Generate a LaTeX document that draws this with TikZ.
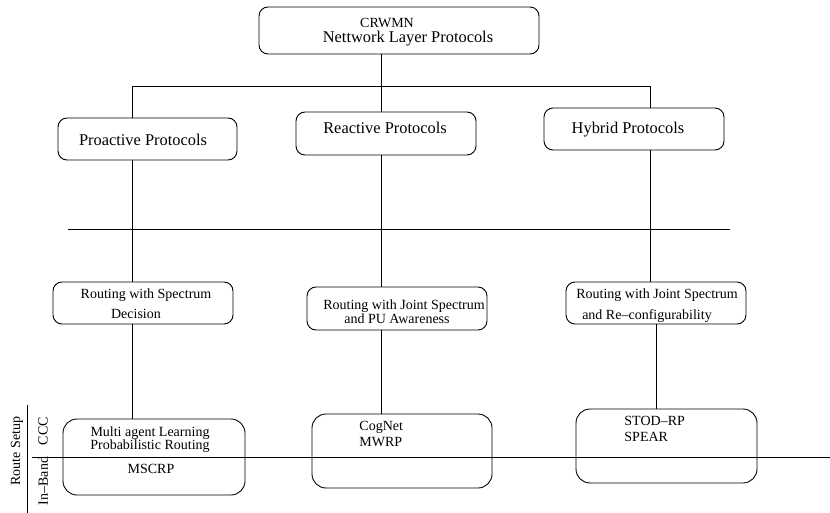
\documentclass[tikz,border=0pt]{standalone}
\usepackage{fontspec}
\setmainfont{Liberation Serif}
\begin{document}
\begin{tikzpicture}[x=1pt,y=-1pt,line width=0.9pt,
  box/.style={draw,rectangle,rounded corners=9pt,inner sep=0pt,outer sep=0pt},
  tallbox/.style={draw,rectangle,rounded corners=14pt,inner sep=0pt,outer sep=0pt},
  big/.style={inner sep=0pt,anchor=base,font=\fontsize{16.4}{18}\selectfont},
  small/.style={inner sep=0pt,anchor=base,font=\fontsize{14}{16}\selectfont},
  smallleft/.style={small,anchor=base west},
  sidelabel/.style={inner sep=0pt,anchor=center,rotate=90,font=\fontsize{14}{16}\selectfont}]
\useasboundingbox (0,0) rectangle (830,513);

% boxes
\node[box,minimum width=280pt,minimum height=47pt] (top) at (399,30.5) {};
\node[box,minimum width=179pt,minimum height=42pt] (pro) at (147.5,139) {};
\node[box,minimum width=180pt,minimum height=43pt] (rea) at (386,133.5) {};
\node[box,minimum width=180pt,minimum height=42pt] (hyb) at (634,129) {};
\node[box,minimum width=180pt,minimum height=42pt] (rs1) at (143,303) {};
\node[box,minimum width=180pt,minimum height=43pt] (rs2) at (397,308.5) {};
\node[box,minimum width=180pt,minimum height=42pt] (rs3) at (656,303) {};
\node[tallbox,minimum width=182pt,minimum height=76pt] (b1) at (154,457) {};
\node[tallbox,minimum width=180pt,minimum height=74pt] (b2) at (402,451) {};
\node[tallbox,minimum width=181pt,minimum height=74pt] (b3) at (666.5,446) {};

% texts
\node[small] (t0a) at (387,28) {CRWMN};
\node[big] (t0b) at (408,43) {Nettwork Layer Protocols};
\node[big] (t1) at (143,146) {Proactive Protocols};
\node[big] (t2) at (385,134) {Reactive Protocols};
\node[big] (t3) at (628,134) {Hybrid Protocols};
\node[small] (t4a) at (146,298) {Routing with Spectrum};
\node[small] (t4b) at (136,318) {Decision};
\node[small] (t5a) at (404,309) {Routing with Joint Spectrum};
\node[small] (t5b) at (397,323) {and PU Awareness};
\node[small] (t6a) at (657,298) {Routing with Joint Spectrum};
\node[small] (t6b) at (647,319) {and Re--configurability};
\node[small] (t7a) at (150,436) {Multi agent Learning};
\node[small] (t7b) at (150,449) {Probabilistic Routing};
\node[small] (t7c) at (151,473) {MSCRP};
\node[smallleft] (t8a) at (359,430) {CogNet};
\node[smallleft] (t8b) at (359,446) {MWRP};
\node[smallleft] (t9a) at (624,425) {STOD--RP};
\node[smallleft] (t9b) at (624,441) {SPEAR};

% side labels
\node[sidelabel] (rsu) at (17,451) {Route Setup};
\node[sidelabel] (ccc) at (43,431) {CCC};
\node[sidelabel] (inb) at (43,481) {In--Band};

% junctions and free ends of the rules
\coordinate (jl) at (132,86);
\coordinate (jm) at (381,86);
\coordinate (jr) at (650,86);
\coordinate (sepL) at (68,229);
\coordinate (sepR) at (730,229);
\coordinate (bandL) at (32,457);
\coordinate (bandR) at (830,457);
\coordinate (sideT) at (27,405);
\coordinate (sideB) at (27,513);

% tree connectors
\draw (top.south -| jm) -- (jm);
\draw (jl) -- (jr);
\draw (jl) -- (jl |- pro.north);
\draw (jm) -- (jm |- rea.north);
\draw (jr) -- (jr |- hyb.north);
\draw (pro.south -| jl) -- (rs1.north -| jl);
\draw (rs1.south -| jl) -- (b1.north -| jl);
\draw (rea.south -| jm) -- (rs2.north -| jm);
\draw (rs2.south -| jm) -- (b2.north -| jm);
\draw (hyb.south -| jr) -- (rs3.north -| jr);
\draw (rs3.south) -- (rs3.south |- b3.north);

% rules
\draw (sepL) -- (sepR);
\draw (bandL) -- (bandR);
\draw (sideT) -- (sideB);
\end{tikzpicture}
\end{document}
